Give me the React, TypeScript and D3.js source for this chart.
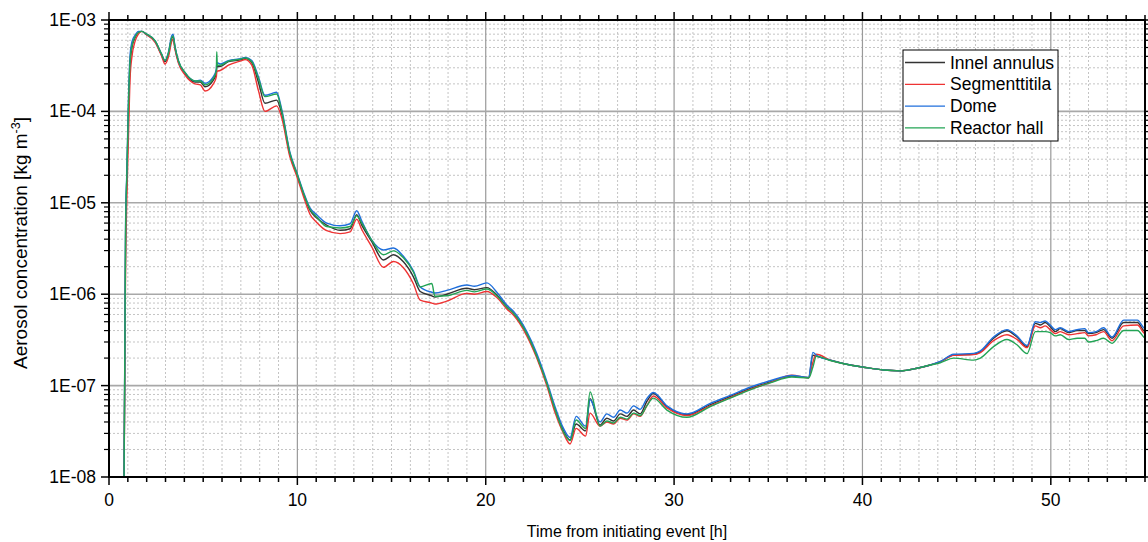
import React, { useEffect, useRef } from "react";
import * as d3 from "d3";

// Time from initiating event [h]
const hours = [
  0.8, 0.88, 0.95, 1.03, 1.12, 1.22, 1.38, 1.56, 1.75, 1.95, 2.45, 2.8, 2.97, 3.15, 3.33, 3.4, 3.5, 3.68,
  4.04, 4.57, 4.85, 5.1, 5.54, 5.7, 5.72, 5.75, 5.9, 6.34, 7.05, 7.22, 7.58, 7.93, 8.28, 8.9, 9.17, 9.6,
  9.97, 10.32, 10.67, 11.03, 11.56, 12.27, 12.8, 13.15, 13.42, 13.95, 14.57, 15.1, 15.63, 16.16, 16.52,
  17.14, 17.3, 17.93, 19.0, 19.4, 20.06, 20.59, 21.12, 21.47, 22.18, 22.71, 23.24, 23.69, 24.13, 24.48,
  24.8, 25.3, 25.54, 26.07, 26.43, 26.79, 27.14, 27.5, 27.85, 28.2, 28.55, 28.9, 29.62, 30.68, 31.92,
  32.98, 34.04, 35.1, 36.25, 37.14, 37.37, 37.55, 38.29, 39.35, 40.06, 41.12, 42.0, 42.9, 43.6, 44.13,
  44.84, 45.9, 46.26, 46.96, 47.67, 48.2, 48.74, 49.18, 49.45, 49.7, 49.97, 50.24, 50.5, 50.95, 51.4,
  51.8, 52.0, 52.4, 52.8, 53.25, 53.87, 54.6, 54.93, 55.0,
];

// Aerosol concentration [kg m-3] per compartment
const innelAnnulus = [
  1e-8, 4e-6, 2e-5, 9e-5, 3.2e-4, 5e-4, 6.4e-4, 7.3e-4, 7.5e-4, 7.0e-4, 5.8e-4, 4.1e-4, 3.5e-4, 4.2e-4, 6.3e-4, 6.6e-4, 5.0e-4, 3.5e-4,
  2.6e-4, 2.1e-4, 2.1e-4, 1.86e-4, 2.2e-4, 2.6e-4, 3.0e-4, 3.1e-4, 3.1e-4, 3.5e-4, 3.7e-4, 3.8e-4, 3.4e-4, 2.1e-4, 1.23e-4, 1.33e-4, 9.5e-5, 3.4e-5,
  2.05e-5, 1.26e-5, 8.3e-6, 6.8e-6, 5.7e-6, 5.0e-6, 5.2e-6, 7.4e-6, 5.7e-6, 3.76e-6, 2.37e-6, 2.7e-6, 2.26e-6, 1.55e-6, 1.07e-6,
  9.6e-7, 9.3e-7, 1.0e-6, 1.16e-6, 1.12e-6, 1.18e-6, 9.8e-7, 7.3e-7, 6.2e-7, 3.7e-7, 2.1e-7, 1.06e-7, 5.4e-8, 3.2e-8, 2.54e-8,
  3.8e-8, 3.2e-8, 7.2e-8, 3.7e-8, 4.4e-8, 4.1e-8, 4.9e-8, 4.6e-8, 5.4e-8, 4.9e-8, 6.7e-8, 8.2e-8, 5.9e-8, 4.8e-8, 6.2e-8,
  7.6e-8, 9.3e-8, 1.1e-7, 1.27e-7, 1.22e-7, 2.15e-7, 2.1e-7, 1.9e-7, 1.68e-7, 1.59e-7, 1.48e-7, 1.45e-7, 1.55e-7, 1.68e-7, 1.82e-7,
  2.16e-7, 2.2e-7, 2.34e-7, 3.3e-7, 3.98e-7, 3.4e-7, 2.67e-7, 4.8e-7, 4.6e-7, 4.9e-7, 4.4e-7, 3.9e-7, 4.2e-7, 3.8e-7, 4.0e-7,
  4.0e-7, 3.7e-7, 3.8e-7, 4.1e-7, 3.3e-7, 4.9e-7, 4.9e-7, 4.0e-7, 3.9e-7,
];

const segmenttitila = [
  1e-8, 2e-6, 1.2e-5, 5e-5, 2.3e-4, 4e-4, 5.8e-4, 7.0e-4, 7.5e-4, 7.0e-4, 5.7e-4, 4.0e-4, 3.3e-4, 3.9e-4, 5.8e-4, 6.2e-4, 4.8e-4, 3.4e-4,
  2.5e-4, 2.0e-4, 1.95e-4, 1.67e-4, 2.0e-4, 2.4e-4, 2.7e-4, 2.75e-4, 2.8e-4, 3.2e-4, 3.6e-4, 3.7e-4, 3.2e-4, 1.7e-4, 1.0e-4, 1.15e-4, 8.5e-5, 3.2e-5,
  1.95e-5, 1.18e-5, 7.5e-6, 6.1e-6, 4.95e-6, 4.6e-6, 4.8e-6, 6.6e-6, 5.1e-6, 3.3e-6, 1.97e-6, 2.28e-6, 1.95e-6, 1.3e-6, 8.6e-7,
  8.0e-7, 7.8e-7, 8.4e-7, 1.02e-6, 1.0e-6, 1.07e-6, 9.2e-7, 6.9e-7, 5.9e-7, 3.5e-7, 2.0e-7, 1.0e-7, 5.0e-8, 3.0e-8, 2.3e-8,
  3.4e-8, 2.8e-8, 5.0e-8, 3.6e-8, 4.0e-8, 3.8e-8, 4.4e-8, 4.2e-8, 4.9e-8, 4.6e-8, 6.0e-8, 7.7e-8, 5.7e-8, 4.7e-8, 6.0e-8,
  7.4e-8, 9.1e-8, 1.08e-7, 1.3e-7, 1.22e-7, 1.8e-7, 2.2e-7, 1.9e-7, 1.68e-7, 1.59e-7, 1.48e-7, 1.45e-7, 1.55e-7, 1.68e-7, 1.82e-7,
  2.14e-7, 2.18e-7, 2.3e-7, 3.1e-7, 3.6e-7, 3.2e-7, 2.6e-7, 4.5e-7, 4.3e-7, 4.5e-7, 4.1e-7, 3.7e-7, 3.9e-7, 3.6e-7, 3.7e-7,
  3.8e-7, 3.5e-7, 3.6e-7, 3.9e-7, 3.1e-7, 4.5e-7, 4.6e-7, 3.8e-7, 3.7e-7,
];

const dome = [
  1e-8, 6e-6, 2.3e-5, 1.3e-4, 4.2e-4, 5.8e-4, 6.8e-4, 7.5e-4, 7.5e-4, 7.1e-4, 5.9e-4, 4.2e-4, 3.6e-4, 4.4e-4, 6.7e-4, 7.0e-4, 5.2e-4, 3.6e-4,
  2.65e-4, 2.15e-4, 2.2e-4, 2.03e-4, 2.4e-4, 2.9e-4, 3.3e-4, 3.4e-4, 3.3e-4, 3.6e-4, 3.8e-4, 3.9e-4, 3.6e-4, 2.4e-4, 1.5e-4, 1.62e-4, 1.05e-4, 3.6e-5,
  2.15e-5, 1.32e-5, 8.8e-6, 7.4e-6, 6.0e-6, 5.6e-6, 5.9e-6, 8.2e-6, 6.3e-6, 3.9e-6, 3.05e-6, 3.2e-6, 2.6e-6, 1.8e-6, 1.2e-6,
  1.05e-6, 1.03e-6, 1.1e-6, 1.26e-6, 1.22e-6, 1.33e-6, 1.05e-6, 7.6e-7, 6.5e-7, 3.9e-7, 2.25e-7, 1.12e-7, 5.8e-8, 3.4e-8, 2.7e-8,
  4.6e-8, 3.6e-8, 7.0e-8, 4.0e-8, 4.9e-8, 4.5e-8, 5.4e-8, 5.0e-8, 6.0e-8, 5.5e-8, 7.2e-8, 8.4e-8, 6.0e-8, 4.9e-8, 6.4e-8,
  7.8e-8, 9.6e-8, 1.13e-7, 1.29e-7, 1.23e-7, 2.31e-7, 2.15e-7, 1.9e-7, 1.68e-7, 1.59e-7, 1.48e-7, 1.45e-7, 1.55e-7, 1.68e-7, 1.84e-7,
  2.2e-7, 2.25e-7, 2.4e-7, 3.4e-7, 4.1e-7, 3.5e-7, 2.75e-7, 5.0e-7, 4.9e-7, 5.1e-7, 4.6e-7, 4.1e-7, 4.3e-7, 3.9e-7, 4.1e-7,
  4.2e-7, 3.8e-7, 3.9e-7, 4.3e-7, 3.4e-7, 5.2e-7, 5.2e-7, 4.3e-7, 4.2e-7,
];

const reactorHall = [
  1e-8, 5e-6, 2.1e-5, 1.1e-4, 3.6e-4, 5.2e-4, 6.5e-4, 7.3e-4, 7.5e-4, 7.1e-4, 5.9e-4, 4.2e-4, 3.6e-4, 4.3e-4, 6.4e-4, 6.7e-4, 5.1e-4, 3.6e-4,
  2.65e-4, 2.15e-4, 2.15e-4, 1.95e-4, 2.3e-4, 2.8e-4, 4.5e-4, 3.2e-4, 3.2e-4, 3.55e-4, 3.75e-4, 3.85e-4, 3.5e-4, 2.3e-4, 1.45e-4, 1.55e-4, 1.0e-4, 3.5e-5,
  2.1e-5, 1.28e-5, 8.5e-6, 7.0e-6, 5.5e-6, 5.3e-6, 5.5e-6, 7.2e-6, 6.0e-6, 3.9e-6, 2.7e-6, 2.98e-6, 2.5e-6, 1.75e-6, 1.2e-6,
  1.31e-6, 9.5e-7, 9.6e-7, 1.1e-6, 1.06e-6, 1.14e-6, 9.6e-7, 7.2e-7, 6.2e-7, 3.7e-7, 2.1e-7, 1.06e-7, 5.4e-8, 3.1e-8, 2.5e-8,
  4.2e-8, 3.4e-8, 8.5e-8, 3.6e-8, 4.1e-8, 3.9e-8, 4.5e-8, 4.3e-8, 5.0e-8, 4.7e-8, 6.0e-8, 7.3e-8, 5.4e-8, 4.5e-8, 5.9e-8,
  7.3e-8, 9.0e-8, 1.07e-7, 1.24e-7, 1.21e-7, 1.6e-7, 2.09e-7, 1.88e-7, 1.68e-7, 1.59e-7, 1.48e-7, 1.45e-7, 1.55e-7, 1.68e-7, 1.78e-7,
  2.0e-7, 1.9e-7, 2.0e-7, 2.67e-7, 3.2e-7, 2.8e-7, 2.24e-7, 3.9e-7, 3.9e-7, 3.9e-7, 3.8e-7, 3.5e-7, 3.6e-7, 3.2e-7, 3.3e-7,
  3.3e-7, 3.0e-7, 3.1e-7, 3.3e-7, 2.9e-7, 4.0e-7, 4.0e-7, 3.4e-7, 3.3e-7,
];

const seriesNames = ["Innel annulus", "Segmenttitila", "Dome", "Reactor hall"];
const seriesValues = [innelAnnulus, segmenttitila, dome, reactorHall];
const seriesColors = ["#333333", "#ee3333", "#1f6fdc", "#23a455"];

const xTickValues = [0, 10, 20, 30, 40, 50];
const yDecades = [1e-8, 1e-7, 1e-6, 1e-5, 1e-4, 1e-3];
const yTickLabels = ["1E-08", "1E-07", "1E-06", "1E-05", "1E-04", "1E-03"];

const W = 1148;
const H = 542;
const FONT = "'Liberation Sans', Arial, sans-serif";

export default function App() {
  const ref = useRef<SVGSVGElement>(null);

  useEffect(() => {
    const svg = d3.select(ref.current);
    svg.selectAll("*").remove();

    const left = 109, right = 1145, top = 20, bottom = 477;
    const x = d3.scaleLinear().domain([0, 55]).range([left, right]);
    const y = d3.scaleLog().domain([1e-8, 1e-3]).range([bottom, top]);

    svg.append("defs").append("clipPath").attr("id", "plot-clip")
      .append("rect").attr("x", left).attr("y", top).attr("width", right - left).attr("height", bottom - top);

    const minorY: number[] = [];
    for (let e = -8; e < -3; e++) for (let m = 2; m <= 9; m++) minorY.push(m * Math.pow(10, e));
    const minorX = d3.range(0, 56).filter((v) => v % 10 !== 0);

    const grid = svg.append("g");
    // minor grid (dotted)
    grid.selectAll("line.mx").data(minorX).join("line")
      .attr("x1", (d) => x(d)).attr("x2", (d) => x(d)).attr("y1", top).attr("y2", bottom)
      .attr("stroke", "#c4c4c4").attr("stroke-width", 1).attr("stroke-dasharray", "2,2");
    grid.selectAll("line.my").data(minorY).join("line")
      .attr("x1", left).attr("x2", right).attr("y1", (d) => y(d)).attr("y2", (d) => y(d))
      .attr("stroke", "#c4c4c4").attr("stroke-width", 1).attr("stroke-dasharray", "2,2");
    // major grid
    grid.selectAll("line.Mx").data(xTickValues.slice(1)).join("line")
      .attr("x1", (d) => x(d)).attr("x2", (d) => x(d)).attr("y1", top).attr("y2", bottom)
      .attr("stroke", "#9a9a9a").attr("stroke-width", 1.2);
    grid.selectAll("line.My").data(yDecades.slice(1, -1)).join("line")
      .attr("x1", left).attr("x2", right).attr("y1", (d) => y(d)).attr("y2", (d) => y(d))
      .attr("stroke", "#a8a8a8").attr("stroke-width", 1.6);

    // series
    const lines = svg.append("g").attr("clip-path", "url(#plot-clip)");
    seriesValues.forEach((vals, i) => {
      const pts = hours.map((h, k) => [h, vals[k]] as [number, number]);
      const line = d3.line<[number, number]>()
        .x((d) => x(d[0]))
        .y((d) => y(d[1]))
        .curve(d3.curveMonotoneX);
      lines.append("path").attr("d", line(pts))
        .attr("fill", "none").attr("stroke", seriesColors[i]).attr("stroke-width", 1.4)
        .attr("stroke-linejoin", "round");
    });

    // axes frame and ticks
    const ax = svg.append("g").attr("stroke", "#000");
    const majorLen = 8, minorLen = 5;
    // bottom & top
    d3.range(0, 56).forEach((v) => {
      const len = v % 10 === 0 ? majorLen : minorLen;
      ax.append("line").attr("x1", x(v)).attr("x2", x(v)).attr("y1", bottom).attr("y2", bottom + len).attr("stroke-width", 1.5);
      ax.append("line").attr("x1", x(v)).attr("x2", x(v)).attr("y1", top).attr("y2", top - len).attr("stroke-width", 1.5);
    });
    // left & right
    yDecades.forEach((v) => {
      ax.append("line").attr("x1", left - majorLen).attr("x2", left).attr("y1", y(v)).attr("y2", y(v)).attr("stroke-width", 1.5);
      ax.append("line").attr("x1", right).attr("x2", right + majorLen).attr("y1", y(v)).attr("y2", y(v)).attr("stroke-width", 1.5);
    });
    minorY.forEach((v) => {
      ax.append("line").attr("x1", left - minorLen).attr("x2", left).attr("y1", y(v)).attr("y2", y(v)).attr("stroke-width", 1.2);
      ax.append("line").attr("x1", right).attr("x2", right + minorLen).attr("y1", y(v)).attr("y2", y(v)).attr("stroke-width", 1.2);
    });
    ax.append("rect").attr("x", left).attr("y", top).attr("width", right - left).attr("height", bottom - top)
      .attr("fill", "none").attr("stroke-width", 2);

    // tick labels
    const labels = svg.append("g").attr("font-family", FONT).attr("fill", "#000");
    xTickValues.forEach((v) => {
      labels.append("text").attr("x", x(v)).attr("y", bottom + 29).attr("font-size", 17.5)
        .attr("text-anchor", "middle").text(String(v));
    });
    yDecades.forEach((v, i) => {
      labels.append("text").attr("x", left - 13).attr("y", y(v) + 6).attr("font-size", 17.5)
        .attr("text-anchor", "end").text(yTickLabels[i]);
    });

    // axis titles
    labels.append("text").attr("x", (left + right) / 2).attr("y", 537).attr("font-size", 16)
      .attr("text-anchor", "middle").text("Time from initiating event [h]");
    const yt = labels.append("text").attr("transform", `translate(27, 243) rotate(-90)`)
      .attr("font-size", 19).attr("text-anchor", "middle");
    yt.append("tspan").text("Aerosol concentration [kg m");
    yt.append("tspan").attr("font-size", 12.5).attr("dy", -7).text("-3");
    yt.append("tspan").attr("dy", 7).text("]");

    // legend
    const lg = svg.append("g").attr("font-family", FONT).attr("font-size", 17.5);
    lg.append("rect").attr("x", 903).attr("y", 50).attr("width", 155).attr("height", 91)
      .attr("fill", "#fff").attr("stroke", "#000").attr("stroke-width", 1);
    seriesNames.forEach((name, i) => {
      const cy = 62.5 + i * 21.8;
      lg.append("line").attr("x1", 905).attr("x2", 945).attr("y1", cy).attr("y2", cy)
        .attr("stroke", seriesColors[i]).attr("stroke-width", 1.3);
      lg.append("text").attr("x", 950).attr("y", cy + 6).text(name);
    });
  }, []);

  return (
    <svg ref={ref} width={W} height={H} style={{ position: "absolute", left: 0, top: 0, background: "#fff" }} />
  );
}
